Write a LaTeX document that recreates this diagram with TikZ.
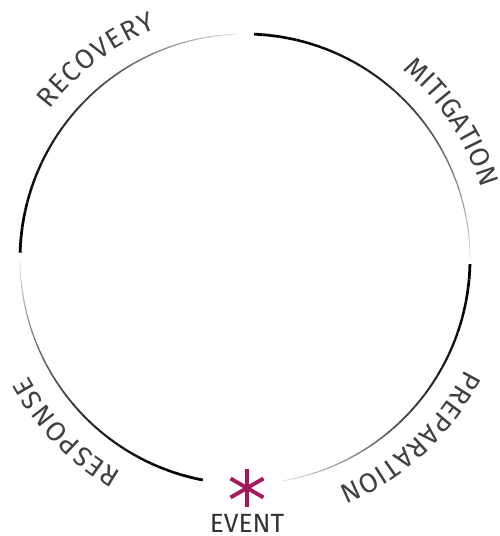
\documentclass[tikz,border=0pt]{standalone}
\usepackage{fontspec}
\setmainfont{Fira Sans}
\usetikzlibrary{decorations.text}
\definecolor{eventred}{HTML}{A3195B}
\newcommand\cyclerad{4.5}
\newcommand\labelrad{4.93}
\newcommand\labelfont{\fontsize{15.5}{17}\selectfont}
\tikzset{
  phaselabel/.style={
    decorate,
    decoration={text along path,text align=fit to path,
      text color=black!75,text={|\labelfont|#1}}
  },
  eventmark/.style={draw=eventred,line width=2.2pt},
  eventtext/.style={text=black!80,font=\fontsize{15}{17}\selectfont,inner sep=0pt}
}

\begin{document}
\begin{tikzpicture}

\useasboundingbox (0,0) rectangle (9.98,10.72);
\coordinate (c) at (4.90,5.54);
\coordinate (ev) at (4.94,0.96);

\foreach \from/\to in {87.7/0,-1.3/-80.3,259.2/180.5,178.4/92}{
  \foreach \i in {1,...,40}{
    \pgfmathsetmacro\a{\from+(\to-\from)*(\i-1)/40}
    \pgfmathsetmacro\b{\from+(\to-\from)*\i/40}
    \pgfmathsetmacro\shade{100-90*((\i-0.5)/40)^2}
    \pgfmathsetmacro\lw{1.6-1.1*(\i-0.5)/40}
    \draw[line width=\lw pt,draw=black!\shade]
      (c) ++(\a:\cyclerad) arc[start angle=\a,end angle=\b,radius=\cyclerad];
  }
}

\path[phaselabel=RECOVERY] (c) ++(142.6:\labelrad)
  arc[start angle=142.6,end angle=111.2,radius=\labelrad];
\path[phaselabel=MITIGATION] (c) ++(50.2:\labelrad)
  arc[start angle=50.2,end angle=17.8,radius=\labelrad];
\path[phaselabel=PREPARATION] (c) ++(-26.6:\labelrad)
  arc[start angle=-26.6,end angle=-67.8,radius=\labelrad];
\path[phaselabel=RESPONSE] (c) ++(240:\labelrad)
  arc[start angle=240,end angle=208.3,radius=\labelrad];

\foreach \ang in {90,30,150}
  \draw[eventmark] (ev) ++(\ang:0.38) -- ++(\ang+180:0.76);
\node[eventtext] (evlabel) at (4.94,0.25) {EVENT};

\end{tikzpicture}
\end{document}
